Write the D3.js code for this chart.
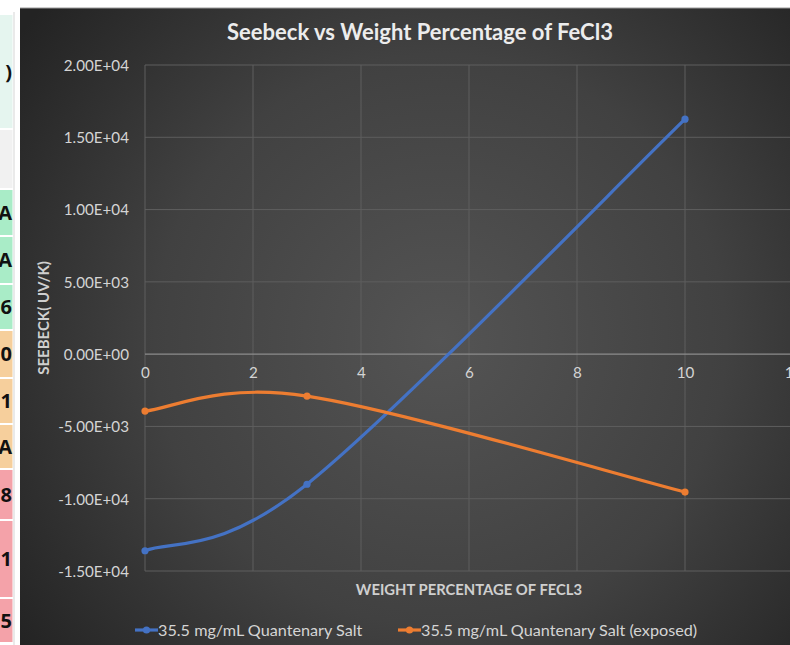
<!DOCTYPE html>
<html>
<head>
<meta charset="utf-8">
<script src="https://cdn.jsdelivr.net/npm/d3@7"></script>
<style>
  html, body { margin: 0; padding: 0; background: #ffffff; }
  svg { display: block; }
</style>
</head>
<body>
<svg id="chart" width="790" height="645"></svg>
<script>
// ---- data ----
const weightPct = [0, 3, 10];
const seebeckSalt = [-13600, -9000, 16250];
const seebeckExposed = [-3940, -2900, -9540];
const seriesNames = ["35.5 mg/mL Quantenary Salt", "35.5 mg/mL Quantenary Salt (exposed)"];
const xTicks = [0, 2, 4, 6, 8, 10, 12];
const yTicks = [-15000, -10000, -5000, 0, 5000, 10000, 15000, 20000];

// spreadsheet cells peeking in at the left edge
const cellTops = [15, 130, 190, 237, 285, 331, 379, 425, 470, 521, 599];
const cellBottoms = [128, 188, 235, 283, 329, 377, 423, 468, 519, 597, 642];
const cellKinds = ["mint", "grey", "green", "green", "green", "tan", "tan", "tan", "pink", "pink", "pink"];
const cellTexts = [")", "", "A", "A", "6", "0", "1", "A", "8", "1", "5"];

const svg = d3.select("#chart");
const W = 790, H = 645;

// ---- cells on the left ----
const cellFill = { mint: "#e5f5ef", grey: "#f1f1f1", green: "#a9ecc7", tan: "#f6cf9c", pink: "#f4a2a9" };
const cells = svg.append("g");
cells.selectAll("rect").data(cellTops).join("rect")
  .attr("x", 0).attr("y", d => d)
  .attr("width", 12.5).attr("height", (d, i) => cellBottoms[i] - d)
  .attr("fill", (d, i) => cellFill[cellKinds[i]]);
cells.append("line").attr("x1", 14).attr("x2", 14).attr("y1", 12).attr("y2", H)
  .attr("stroke", "#dcdcdc").attr("stroke-width", 1.2);
cells.selectAll("text").data(cellTexts).join("text")
  .attr("x", 12).attr("y", (d, i) => cellBottoms[i] - (cellBottoms[i] - cellTops[i]) / 2 + 7)
  .attr("text-anchor", "end")
  .attr("font-family", "Open Sans, sans-serif").attr("font-weight", 700).attr("font-size", 20)
  .attr("fill", "#111").text(d => d);

// ---- chart panel ----
const defs = svg.append("defs");
const grad = defs.append("radialGradient").attr("id", "bg")
  .attr("gradientUnits", "userSpaceOnUse")
  .attr("cx", 440).attr("cy", 340).attr("r", 520);
grad.append("stop").attr("offset", 0).attr("stop-color", "#545454");
grad.append("stop").attr("offset", 0.55).attr("stop-color", "#414141");
grad.append("stop").attr("offset", 1).attr("stop-color", "#232323");

const panelX = 20, panelY = 8;
svg.append("rect").attr("x", panelX).attr("y", panelY)
  .attr("width", W - panelX + 40).attr("height", H - panelY + 10)
  .attr("fill", "url(#bg)");
svg.append("line").attr("x1", panelX).attr("x2", W).attr("y1", panelY).attr("y2", panelY)
  .attr("stroke", "#9a9a9a").attr("stroke-width", 1);

// ---- scales ----
const x = d3.scaleLinear().domain([0, 12]).range([145, 793]);
const y = d3.scaleLinear().domain([-15000, 20000]).range([571, 65]);

const fontUI = "Lato, 'Open Sans', sans-serif";
const labelColor = "#d4d4d4";

// gridlines
const grid = svg.append("g");
grid.selectAll("line.v").data(xTicks).join("line").attr("class", "v")
  .attr("x1", d => x(d)).attr("x2", d => x(d))
  .attr("y1", y(20000)).attr("y2", y(-15000))
  .attr("stroke", "#5e5e5e").attr("stroke-width", 1);
grid.selectAll("line.h").data(yTicks).join("line").attr("class", "h")
  .attr("x1", x(0)).attr("x2", x(12))
  .attr("y1", d => y(d)).attr("y2", d => y(d))
  .attr("stroke", d => d === 0 ? "#8c8c8c" : "#5e5e5e")
  .attr("stroke-width", d => d === 0 ? 1.3 : 1);

// y axis labels
const yAxis = d3.axisLeft(y).tickValues(yTicks).tickSize(0).tickPadding(0)
  .tickFormat(d => {
    const s = d3.format(".2e")(Math.abs(d)).toUpperCase();
    const m = s.match(/^([\d.]+)E([+-])(\d+)$/);
    const exp = m[3].padStart(2, "0");
    return (d < 0 ? "-" : "") + m[1] + "E" + m[2] + exp;
  });
const gy = svg.append("g").attr("transform", "translate(129,0)").call(yAxis);
gy.select(".domain").remove();
gy.selectAll("text").attr("font-family", fontUI).attr("font-size", 15.2)
  .attr("fill", labelColor).attr("dy", "0.35em");

// x axis labels, sitting under the zero line
const xAxis = d3.axisBottom(x).tickValues(xTicks).tickSize(0).tickPadding(0)
  .tickFormat(d3.format("d"));
const gx = svg.append("g").attr("transform", `translate(0,${y(0) + 19})`).call(xAxis);
gx.select(".domain").remove();
gx.selectAll("text").attr("font-family", fontUI).attr("font-size", 15.2)
  .attr("fill", labelColor).attr("dy", "0.35em");

// ---- series ----
// Smoothed curve: cubic Bezier segments with tangents (next - prev) / 6,
// the end points using themselves as the missing neighbour.
function SmoothCurve(context) { this._context = context; }
SmoothCurve.prototype = {
  areaStart() {}, areaEnd() {},
  lineStart() { this._pts = []; },
  lineEnd() {
    const p = this._pts, c = this._context, n = p.length;
    if (!n) return;
    c.moveTo(p[0][0], p[0][1]);
    for (let i = 0; i < n - 1; i++) {
      const p0 = p[Math.max(i - 1, 0)], p1 = p[i], p2 = p[i + 1], p3 = p[Math.min(i + 2, n - 1)];
      c.bezierCurveTo(
        p1[0] + (p2[0] - p0[0]) / 6, p1[1] + (p2[1] - p0[1]) / 6,
        p2[0] - (p3[0] - p1[0]) / 6, p2[1] - (p3[1] - p1[1]) / 6,
        p2[0], p2[1]);
    }
  },
  point(px, py) { this._pts.push([+px, +py]); }
};
const smooth = context => new SmoothCurve(context);

const colors = ["#4472c4", "#ed7d31"];
const seriesValues = [seebeckSalt, seebeckExposed];
const line = d3.line()
  .x(d => x(d[0])).y(d => y(d[1]))
  .curve(smooth);

seriesValues.forEach((vals, si) => {
  const pts = weightPct.map((w, i) => [w, vals[i]]);
  const g = svg.append("g");
  g.append("path").attr("d", line(pts))
    .attr("fill", "none").attr("stroke", colors[si])
    .attr("stroke-width", 3.2).attr("stroke-linecap", "round");
  g.selectAll("circle").data(pts).join("circle")
    .attr("cx", d => x(d[0])).attr("cy", d => y(d[1])).attr("r", 3.6)
    .attr("fill", colors[si]);
});

// ---- titles ----
svg.append("text").attr("x", 420).attr("y", 40).attr("text-anchor", "middle")
  .attr("font-family", fontUI).attr("font-weight", 700).attr("font-size", 22)
  .attr("fill", "#ececec").text("Seebeck vs Weight Percentage of FeCl3");

svg.append("text").attr("x", 469).attr("y", 595).attr("text-anchor", "middle")
  .attr("font-family", fontUI).attr("font-weight", 700).attr("font-size", 14.8)
  .attr("fill", "#cfcfcf").text("WEIGHT PERCENTAGE OF FECL3");

svg.append("text")
  .attr("transform", `translate(49,${(y(20000) + y(-15000)) / 2}) rotate(-90)`)
  .attr("text-anchor", "middle")
  .attr("font-family", fontUI).attr("font-weight", 700).attr("font-size", 15)
  .attr("fill", "#cfcfcf").text("SEEBECK( UV/K)");

// ---- legend ----
const legendX = [135, 398];
const legend = svg.append("g");
seriesNames.forEach((name, i) => {
  const lg = legend.append("g").attr("transform", `translate(${legendX[i]},630)`);
  lg.append("line").attr("x1", 0).attr("x2", 23).attr("y1", 0).attr("y2", 0)
    .attr("stroke", colors[i]).attr("stroke-width", 3.2);
  lg.append("circle").attr("cx", 11.5).attr("cy", 0).attr("r", 3.6).attr("fill", colors[i]);
  lg.append("text").attr("x", 23).attr("y", 0).attr("dy", "0.35em")
    .attr("font-family", fontUI).attr("font-size", 16.2)
    .attr("fill", "#d4d4d4").text(name);
});
</script>
</body>
</html>
